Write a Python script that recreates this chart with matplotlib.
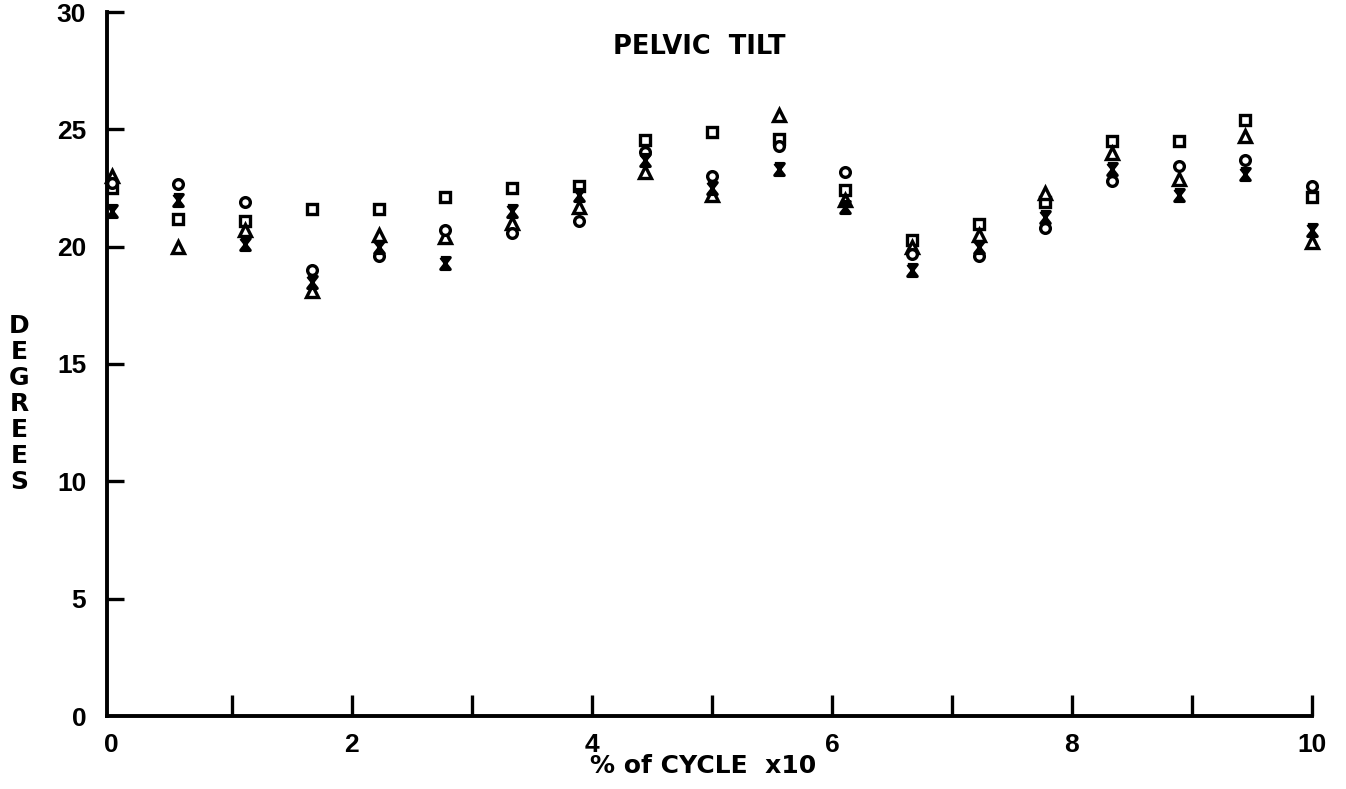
import matplotlib
matplotlib.use("Agg")
import matplotlib.pyplot as plt
from matplotlib.path import Path

plt.rcParams['font.family'] = ['Liberation Sans', 'DejaVu Sans']

# Data: 19 samples across the cycle (x in units of 10 %)
x_pos = [i * 10 / 18 for i in range(19)]
square = [22.5, 21.2, 21.1, 21.6, 21.6, 22.1, 22.5, 22.6, 24.55, 24.9,
          24.6, 22.4, 20.3, 20.95, 21.9, 24.5, 24.5, 25.4, 22.1]
triangle = [23.0, 20.0, 20.7, 18.1, 20.5, 20.4, 21.0, 21.7, 23.2, 22.2,
            25.6, 22.0, 20.0, 20.5, 22.3, 24.0, 22.9, 24.7, 20.2]
circle = [22.7, 22.65, 21.9, 19.0, 19.6, 20.7, 20.6, 21.1, 24.05, 23.0,
          24.3, 23.2, 19.7, 19.6, 20.8, 22.8, 23.45, 23.7, 22.6]
cross = [21.5, 22.0, 20.1, 18.5, 20.0, 19.3, 21.5, 22.2, 23.7, 22.5,
         23.3, 21.7, 19.0, 20.0, 21.25, 23.3, 22.2, 23.1, 20.7]

x_ticks = list(range(0, 11))
x_ticklabels = ['0', '', '2', '', '4', '', '6', '', '8', '', '10']
y_ticks = [0, 5, 10, 15, 20, 25, 30]
title = "PELVIC  TILT"
xlabel = "% of CYCLE  x10"
ylabel = "DEGREES"

W, H = 1346, 789
fig = plt.figure(figsize=(W / 100, H / 100), dpi=100)
ax = fig.add_axes([107 / W, 1 - 716 / H, (1312 - 107) / W, (716 - 12) / H])
ax.set_xlim(-0.04, 10.0)
ax.set_ylim(0, 30)

hourglass = Path([(-0.55, 0.7), (0.55, 0.7), (0.0, 0.0), (-0.55, -0.7),
                  (0.55, -0.7), (0.0, 0.0), (-0.55, 0.7)])

kw = dict(linestyle='none', color='black', markeredgewidth=2.4, zorder=3,
          clip_on=False)
ax.plot(x_pos, square, marker='s', markersize=6.5, markerfacecolor='white', **kw)
ax.plot(x_pos, triangle, marker='^', markersize=8, markerfacecolor='white', **kw)
ax.plot(x_pos, circle, marker='o', markersize=7, markerfacecolor='white', **kw)
ax.plot(x_pos, cross, marker=hourglass, markersize=8.5, markerfacecolor='black', **kw)

for s in ['top', 'right']:
    ax.spines[s].set_visible(False)
for s in ['left', 'bottom']:
    ax.spines[s].set_linewidth(2.8)

ax.set_xticks(x_ticks)
ax.set_xticklabels(x_ticklabels)
ax.set_yticks(y_ticks)
ax.set_yticklabels([str(v) for v in y_ticks])
ax.tick_params(axis='x', direction='in', length=15, width=2.4, pad=12,
               labelsize=19)
ax.tick_params(axis='y', direction='in', length=12, width=2.4, pad=15,
               labelsize=19)
for lab in ax.get_xticklabels() + ax.get_yticklabels():
    lab.set_fontweight('bold')
ax.xaxis.get_major_ticks()[0].tick1line.set_visible(False)
ax.yaxis.get_major_ticks()[0].tick1line.set_visible(False)

fig.text(699 / W, 1 - 47 / H, title, ha='center', va='center', fontsize=18.5,
         fontweight='bold', family=['DejaVu Sans'])
fig.text(703 / W, 1 - 766 / H, xlabel, ha='center', va='center', fontsize=18,
         fontweight='bold', family=['DejaVu Sans'])
for k, ch in enumerate(ylabel):
    fig.text(19 / W, 1 - (326 + 26 * k) / H, ch, ha='center', va='center',
             fontsize=18, fontweight='bold', family=['DejaVu Sans'])

fig.savefig('out.png', dpi=100, facecolor='white')
